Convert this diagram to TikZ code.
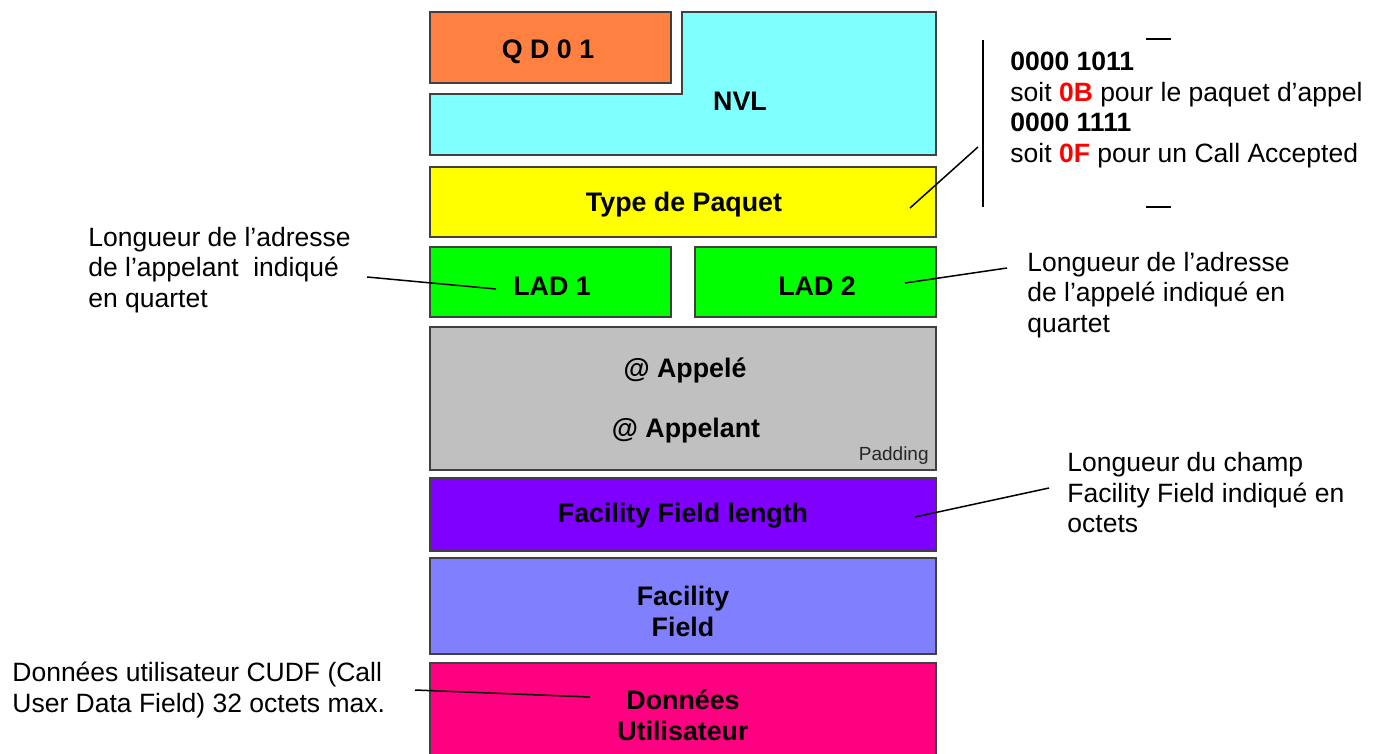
\documentclass[tikz,border=0pt]{standalone}
\usepackage{fontspec}
\setmainfont{Liberation Sans}
\usetikzlibrary{positioning}
\definecolor{qdorange}{HTML}{FF8040}
\definecolor{nvlcyan}{HTML}{80FFFF}
\definecolor{typeyellow}{HTML}{FFFF00}
\definecolor{ladgreen}{HTML}{00FF00}
\definecolor{adrgray}{HTML}{C0C0C0}
\definecolor{fflpurple}{HTML}{8000FF}
\definecolor{ffblue}{HTML}{8080FF}
\definecolor{datapink}{HTML}{FF0080}
\definecolor{framegray}{HTML}{404040}
\definecolor{hexred}{HTML}{FF0000}
\tikzset{
  field/.style={draw=framegray, line width=1pt},
  fieldtext/.style={font=\bfseries\fontsize{13.4}{15.5}\selectfont, align=center, inner sep=0pt},
  note/.style={font=\fontsize{13.25}{15.25}\selectfont, align=left, inner sep=0pt, anchor=west},
  leader/.style={line width=0.75pt}
}

\begin{document}
\begin{tikzpicture}[x=0.5pt, y=-0.5pt]
    \useasboundingbox (0,0) rectangle (1380,754);
    % QD01 and NVL
    \draw [field, fill=qdorange] (430,12) rectangle (671,83); \node [fieldtext] (qd) at (548,52) {Q D 0 1};
    \draw [field, fill=nvlcyan] (682,12) -- (936,12) -- (936,155) -- (430,155) -- (430,94) -- (682,94) -- cycle;
    \node [fieldtext] (nvl) at (740,101) {NVL};
    % Type de paquet
    \draw [field, fill=typeyellow] (430,167) rectangle (936,237); \node [fieldtext] (type) at (684,205) {Type de Paquet};
    % LAD
    \draw [field, fill=ladgreen] (430,247) rectangle (671,317); \node [fieldtext] (lad1) at (552,286) {LAD 1};
    \draw [field, fill=ladgreen] (695,247) rectangle (936,317); \node [fieldtext] (lad2) at (817,286) {LAD 2};
    % Adresses
    \draw [field, fill=adrgray] (430,327) rectangle (936,470);
    \node [fieldtext] (appele) at (685,370) {@ Appelé};
    \node [fieldtext] (appelant) at (686,431) {@ Appelant};
    \node [inner sep=0pt, anchor=east, text=black!85, font=\fontsize{9.5}{11}\selectfont] (padding) at (929,456) {Padding};
    % Facilities
    \draw [field, fill=fflpurple] (430,478) rectangle (936,551); \node [fieldtext] (ffl) at (683,516) {Facility Field length};
    \draw [field, fill=ffblue] (430,558) rectangle (936,654); \node [fieldtext] (ff) at (683,611) {Facility\\Field};
    % Donnees
    \draw [field, fill=datapink] (430,663) rectangle (936,760); \node [fieldtext] (data) at (683,715) {Données\\Utilisateur};

    % Notes
    \node [note] (typenote) at (1010,110) {\textbf{0000 1011}\\soit \textbf{\color{hexred}0B} pour le paquet d’appel\\\textbf{0000 1111}\\soit \textbf{\color{hexred}0F} pour un Call Accepted};
    \node [note] (lad1note) at (88,270) {Longueur de l’adresse\\de l’appelant~ indiqué\\en quartet};
    \node [note] (lad2note) at (1027,295) {Longueur de l’adresse\\de l’appelé indiqué en\\quartet};
    \node [note] (fflnote) at (1067,493) {Longueur du champ\\Facility Field indiqué en\\octets};
    \node [note] (datanote) at (12,690) {Données utilisateur CUDF (Call\\User Data Field) 32 octets max.};

    % Leaders
    \coordinate (typetip) at (910,208); \coordinate (typefoot) at (978,147);
    \coordinate (barTop) at (983,40); \coordinate (barBot) at (983,207);
    \draw [leader] (typetip) -- (typefoot);
    \draw [leader] (barTop) -- (barBot);
    \draw [leader] (1146,39) -- (1171,39);
    \draw [leader] (1146,207) -- (1171,207);
    \coordinate (lad1tip) at (496,289); \coordinate (lad1foot) at (367,277);
    \draw [leader] (lad1foot) -- (lad1tip);
    \coordinate (lad2tip) at (905,283); \coordinate (lad2foot) at (1007,268);
    \draw [leader] (lad2tip) -- (lad2foot);
    \coordinate (ffltip) at (915,517); \coordinate (fflfoot) at (1049,488);
    \draw [leader] (ffltip) -- (fflfoot);
    \coordinate (datatip) at (590,697); \coordinate (datafoot) at (415,690);
    \draw [leader] (datafoot) -- (datatip);
\end{tikzpicture}
\end{document}
